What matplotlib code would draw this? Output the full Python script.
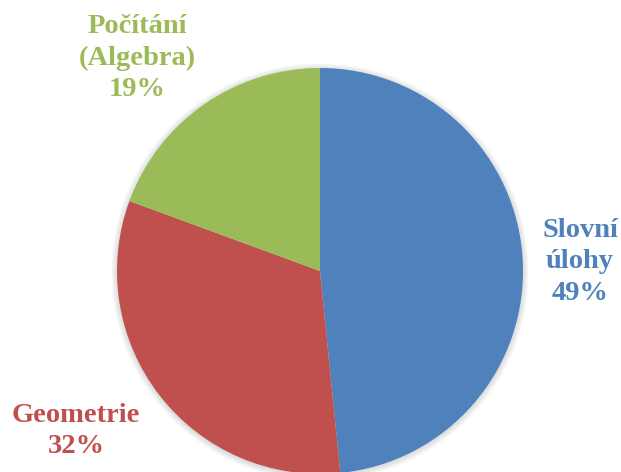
import matplotlib
matplotlib.use("Agg")
import matplotlib.pyplot as plt
import matplotlib.patches as mpatches

# slices, clockwise from 12 o'clock
labels = ["Slovní\núlohy", "Geometrie", "Počítání\n(Algebra)"]
shares = [48.4, 32.2, 19.4]          # wedge sizes as drawn
pct_text = ["49%", "32%", "19%"]     # percentages as printed on the chart
colors = ["#4F81BD", "#C0504D", "#9BBB59"]

W, H = 621, 472
fig = plt.figure(figsize=(W / 100, H / 100), dpi=100)
ax = fig.add_axes([0, 0, 1, 1])

cx, cy, r = 320, H - 271, 203

# soft outer shadow
for k in range(7):
    ax.add_patch(mpatches.Circle((cx, cy - 1), r + 0.5 + k * 0.9, color="#000000",
                                 alpha=0.02, lw=0, zorder=0))

wedges, _ = ax.pie(shares, colors=colors, startangle=90, counterclock=False,
                   center=(cx, cy), radius=r, frame=True,
                   wedgeprops=dict(linewidth=0))
ax.set_xlim(0, W)
ax.set_ylim(0, H)
ax.set_aspect("equal")
ax.axis("off")

# label positions (pixels from top-left)
pos = [(580, 262), (76, 431), (137, 58)]
font = dict(family="Liberation Serif", weight="bold", size=20.5)
for lab, pct, col, (x, y) in zip(labels, pct_text, colors, pos):
    ax.text(x, H - y, lab + "\n" + pct, color=col, ha="center", va="center",
            linespacing=1.33, **font)

fig.savefig("out.png", dpi=100)
